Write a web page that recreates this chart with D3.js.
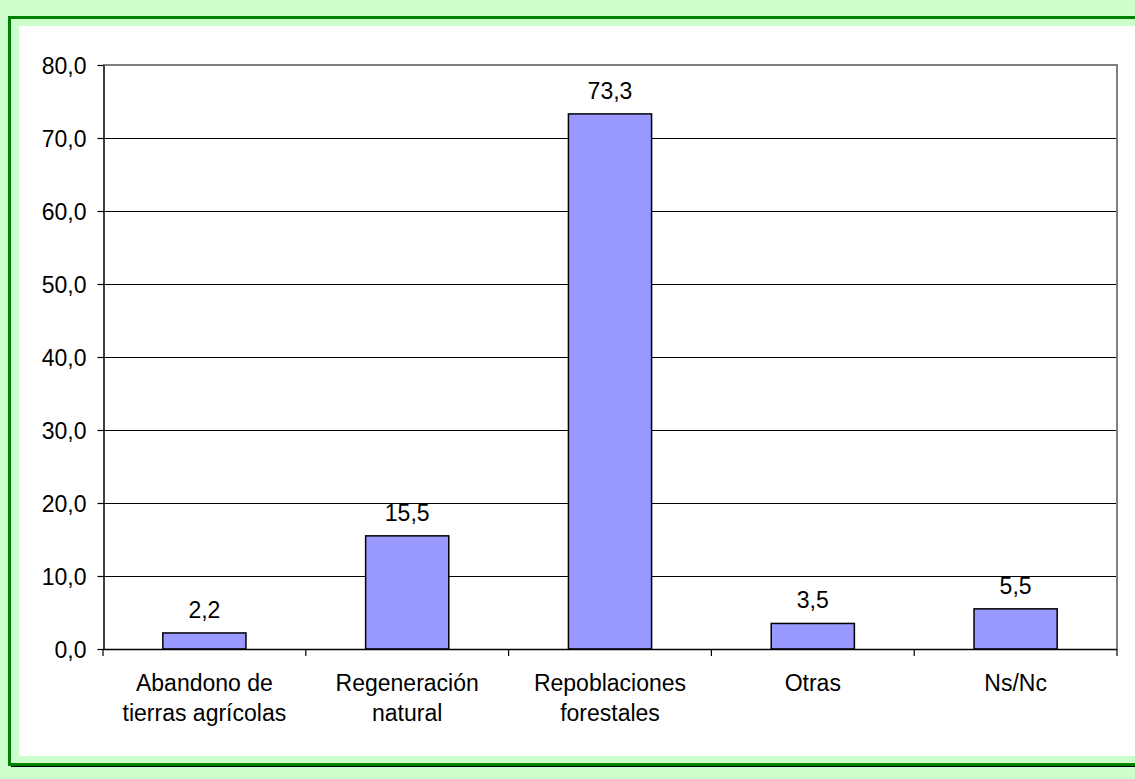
<meta charset="utf-8">
<script src="https://d3js.org/d3.v7.min.js"></script>
<style>
    body { margin: 0; background: #ccffcc; font-family: "Liberation Sans", Arial, sans-serif; }
    svg { display: block; }
</style>

<svg width="1135" height="779"></svg>

<script>
    const categories = [["Abandono de", "tierras agrícolas"], ["Regeneración", "natural"], ["Repoblaciones", "forestales"], ["Otras"], ["Ns/Nc"]];
    const values = [2.2, 15.5, 73.3, 3.5, 5.5];
    const yTicks = [0, 10, 20, 30, 40, 50, 60, 70, 80];

    const svg = d3.select("svg");
    const fmt = v => d3.format(".1f")(v).replace(".", ",");
    const FS = 23;

    // frame: shadow, green border, white panel
    svg.append("rect").attr("x", 11).attr("y", 19).attr("width", 1140).attr("height", 748).attr("fill", "#000");
    svg.append("rect").attr("x", 9.5).attr("y", 17.5).attr("width", 1140).attr("height", 747)
        .attr("fill", "#ccffcc").attr("stroke", "#008000").attr("stroke-width", 3);
    svg.append("rect").attr("x", 19).attr("y", 26).attr("width", 1130).attr("height", 730).attr("fill", "#fff");

    const m = { left: 103, right: 1117, top: 65, bottom: 649 };
    const x = d3.scaleBand().domain(d3.range(categories.length)).range([m.left, m.right]).paddingInner(0.59).paddingOuter(0.295);
    const xb = d3.scaleBand().domain(d3.range(categories.length)).range([m.left, m.right]);
    const y = d3.scaleLinear().domain([0, 80]).range([m.bottom, m.top]);

    const g = svg.append("g").attr("font-family", "Liberation Sans, Arial, sans-serif");

    // gridlines
    g.selectAll(".grid").data(yTicks.slice(1, -1)).enter().append("line")
        .attr("x1", m.left).attr("x2", m.right)
        .attr("y1", d => Math.round(y(d)) + 0.5).attr("y2", d => Math.round(y(d)) + 0.5)
        .attr("stroke", "#000").attr("stroke-width", 1);

    // plot border top/right (gray)
    g.append("path")
        .attr("d", `M${m.left},${m.top} H${m.right} V${m.bottom}`)
        .attr("fill", "none").attr("stroke", "#808080").attr("stroke-width", 2);

    // y axis
    const yAxis = g.append("g").attr("transform", `translate(${m.left + 0.5},0)`)
        .call(d3.axisLeft(y).tickValues(yTicks).tickFormat(fmt).tickSize(6).tickSizeOuter(0));
    yAxis.select(".domain").attr("stroke", "#000").attr("stroke-width", 1.5);
    yAxis.selectAll(".tick line").attr("stroke", "#000").attr("stroke-width", 1.2);
    yAxis.selectAll(".tick text").attr("x", -17).attr("dy", "0.35em")
        .attr("font-size", FS).attr("fill", "#000").attr("font-family", "Liberation Sans, Arial, sans-serif");

    // bars
    g.selectAll(".bar").data(values).enter().append("rect")
        .attr("x", (d, i) => x(i)).attr("width", x.bandwidth())
        .attr("y", d => y(d)).attr("height", d => y(0) - y(d))
        .attr("fill", "#9999ff").attr("stroke", "#000").attr("stroke-width", 1.5);

    // value labels
    g.selectAll(".val").data(values).enter().append("text")
        .attr("x", (d, i) => x(i) + x.bandwidth() / 2).attr("y", d => y(d) - 15)
        .attr("text-anchor", "middle").attr("font-size", FS).attr("fill", "#000")
        .text(fmt);

    // x axis line and ticks
    g.append("line").attr("x1", m.left).attr("x2", m.right)
        .attr("y1", m.bottom + 0.5).attr("y2", m.bottom + 0.5)
        .attr("stroke", "#000").attr("stroke-width", 1.5);
    g.selectAll(".xt").data(d3.range(categories.length + 1)).enter().append("line")
        .attr("x1", i => i < categories.length ? xb(i) : m.right).attr("x2", i => i < categories.length ? xb(i) : m.right)
        .attr("y1", m.bottom).attr("y2", m.bottom + 7)
        .attr("stroke", "#000").attr("stroke-width", 1.2);

    // category labels
    const lab = g.selectAll(".lab").data(categories).enter().append("text")
        .attr("text-anchor", "middle").attr("font-size", FS).attr("fill", "#000");
    lab.selectAll("tspan").data((d, i) => d.map(t => ({ t, i }))).enter().append("tspan")
        .attr("x", d => xb(d.i) + xb.bandwidth() / 2)
        .attr("y", (d, j) => 691 + j * 30)
        .text(d => d.t);
</script>
